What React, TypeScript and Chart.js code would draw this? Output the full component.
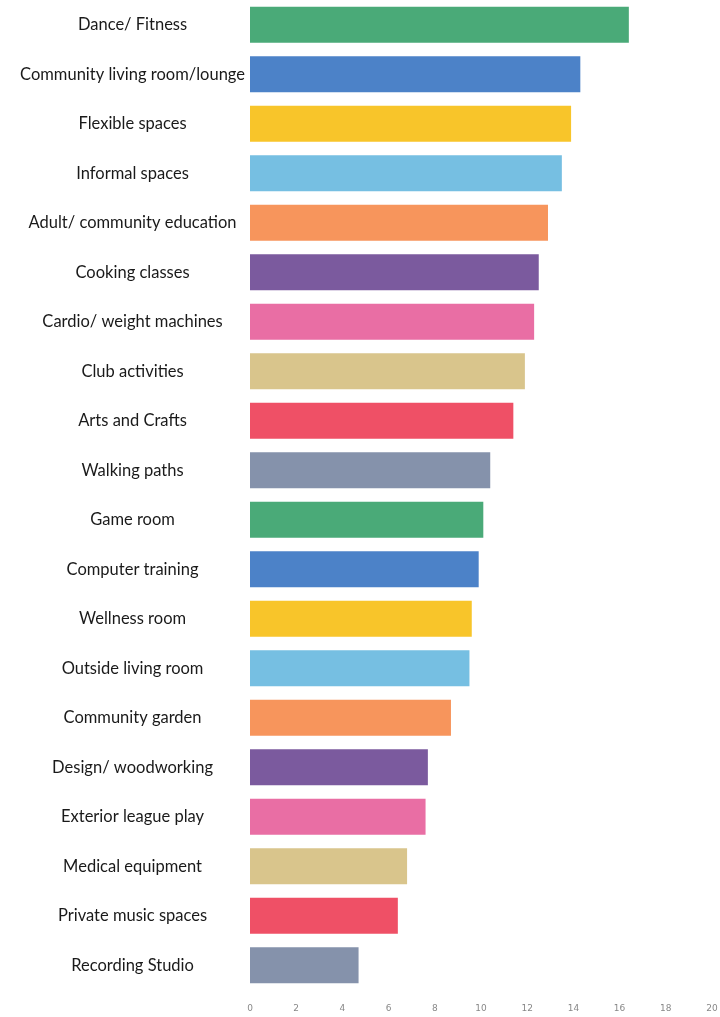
import React, { useEffect, useRef } from "react";
import { Chart, registerables } from "chart.js";

Chart.register(...registerables);

const categories = [
  "Dance/ Fitness",
  "Community living room/lounge",
  "Flexible spaces",
  "Informal spaces",
  "Adult/ community education",
  "Cooking classes",
  "Cardio/ weight machines",
  "Club activities",
  "Arts and Crafts",
  "Walking paths",
  "Game room",
  "Computer training",
  "Wellness room",
  "Outside living room",
  "Community garden",
  "Design/ woodworking",
  "Exterior league play",
  "Medical equipment",
  "Private music spaces",
  "Recording Studio",
];

const values = [16.4, 14.3, 13.9, 13.5, 12.9, 12.5, 12.3, 11.9, 11.4, 10.4, 10.1, 9.9, 9.6, 9.5, 8.7, 7.7, 7.6, 6.8, 6.4, 4.7];

const palette = ["#4aaa78", "#4c82c8", "#f8c52a", "#76bfe2", "#f7955c", "#7b5a9e", "#e96ea4", "#d9c58c", "#ef5066", "#8592ab"];

const xTicks = [0, 2, 4, 6, 8, 10, 12, 14, 16, 18, 20];

export default function App() {
  const ref = useRef<HTMLCanvasElement | null>(null);

  useEffect(() => {
    document.body.style.margin = "0";
    const ctx = ref.current;
    if (!ctx) return;
    const colors = categories.map((_, i) => palette[i % palette.length]);
    const chart = new Chart(ctx, {
      type: "bar",
      data: {
        labels: categories,
        datasets: [
          {
            data: values,
            backgroundColor: colors,
            borderWidth: 0,
            barPercentage: 0.73,
            categoryPercentage: 1,
          },
        ],
      },
      options: {
        indexAxis: "y",
        animation: false,
        responsive: false,
        maintainAspectRatio: false,
        layout: { padding: { top: 0, right: 8, bottom: 0, left: 0 } },
        plugins: { legend: { display: false }, tooltip: { enabled: false } },
        scales: {
          x: {
            min: 0,
            max: 20,
            afterBuildTicks: (scale: any) => {
              scale.ticks = xTicks.map((v) => ({ value: v }));
            },
            afterFit: (scale: any) => {
              scale.height = 27;
              scale.paddingLeft = 0;
              scale.paddingRight = 0;
            },
            grid: { display: false, drawTicks: false },
            border: { display: false },
            ticks: {
              color: "#888",
              font: { family: "DejaVu Sans", size: 9 },
              padding: 13,
              maxRotation: 0,
            },
          },
          y: {
            afterFit: (scale: any) => {
              scale.width = 250;
              scale.paddingTop = 0;
              scale.paddingBottom = 0;
            },
            grid: { display: false, drawTicks: false },
            border: { display: false },
            ticks: {
              color: "#1a1a1a",
              crossAlign: "center",
              font: { family: "Lato", size: 16.5 },
              padding: 5,
              autoSkip: false,
            },
          },
        },
      },
    });
    return () => chart.destroy();
  }, []);

  return (
    <div style={{ width: 720, height: 1017, background: "#fff" }}>
      <canvas ref={ref} width={720} height={1017} style={{ display: "block" }} />
    </div>
  );
}
